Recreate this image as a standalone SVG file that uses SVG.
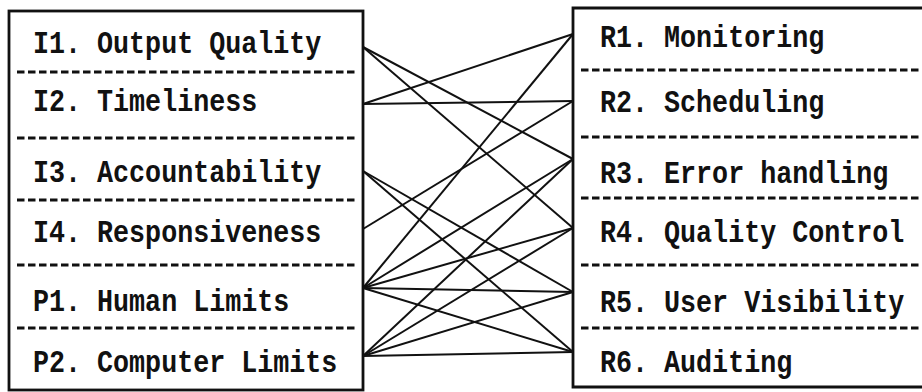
<svg xmlns="http://www.w3.org/2000/svg" width="922" height="392" viewBox="0 0 922 392">
  <style>
    .box { fill: #ffffff; stroke: #111111; stroke-width: 2.8; }
    .sep { stroke: #111111; stroke-width: 3; stroke-dasharray: 7.5 3.5; fill: none; }
    .lbl { font-family: "Liberation Mono", "DejaVu Sans Mono", monospace; font-weight: bold; font-size: 26.7px; fill: #111111; }
    .link { stroke: #111111; stroke-width: 2; fill: none; }
  </style>
  <rect width="922" height="392" fill="#ffffff"/>

  <!-- left column: issues and limits -->
  <g id="left-box">
    <rect class="box" x="9" y="11" width="354" height="379"/>
    <line class="sep" x1="17" y1="72" x2="355" y2="72"/>
    <line class="sep" x1="17" y1="138" x2="355" y2="138"/>
    <line class="sep" x1="17" y1="200" x2="355" y2="200"/>
    <line class="sep" x1="17" y1="265" x2="355" y2="265"/>
    <line class="sep" x1="17" y1="328" x2="355" y2="328"/>
  </g>
  <!-- labels are set slightly tall: scale(1,1.16) about each baseline -->
  <g id="I1" transform="translate(33 53) scale(1 1.16)"><text class="lbl">I1. Output Quality</text></g>
  <g id="I2" transform="translate(33 111) scale(1 1.16)"><text class="lbl">I2. Timeliness</text></g>
  <g id="I3" transform="translate(33 182) scale(1 1.16)"><text class="lbl">I3. Accountability</text></g>
  <g id="I4" transform="translate(33 242) scale(1 1.16)"><text class="lbl">I4. Responsiveness</text></g>
  <g id="P1" transform="translate(33 311) scale(1 1.16)"><text class="lbl">P1. Human Limits</text></g>
  <g id="P2" transform="translate(33 372) scale(1 1.16)"><text class="lbl">P2. Computer Limits</text></g>

  <!-- right column: requirements (open on the right, runs past the edge) -->
  <g id="right-box">
    <path class="box" d="M922 8 H573 V387 H922"/>
    <line class="sep" x1="581" y1="70" x2="922" y2="70"/>
    <line class="sep" x1="581" y1="137" x2="922" y2="137"/>
    <line class="sep" x1="581" y1="198" x2="922" y2="198"/>
    <line class="sep" x1="581" y1="265" x2="922" y2="265"/>
    <line class="sep" x1="581" y1="328" x2="922" y2="328"/>
  </g>
  <g id="R1" transform="translate(600 47) scale(1 1.16)"><text class="lbl">R1. Monitoring</text></g>
  <g id="R2" transform="translate(600 112) scale(1 1.16)"><text class="lbl">R2. Scheduling</text></g>
  <g id="R3" transform="translate(600 183) scale(1 1.16)"><text class="lbl">R3. Error handling</text></g>
  <g id="R4" transform="translate(600 242) scale(1 1.16)"><text class="lbl">R4. Quality Control</text></g>
  <g id="R5" transform="translate(600 312) scale(1 1.16)"><text class="lbl">R5. User Visibility</text></g>
  <g id="R6" transform="translate(600 372) scale(1 1.16)"><text class="lbl">R6. Auditing</text></g>

  <!-- links between the columns -->
  <g id="connectors">
    <line class="link" x1="363" y1="47" x2="573" y2="159"/>
    <line class="link" x1="363" y1="47" x2="573" y2="228"/>
    <line class="link" x1="363" y1="104" x2="573" y2="34"/>
    <line class="link" x1="363" y1="104" x2="573" y2="101"/>
    <line class="link" x1="363" y1="171" x2="573" y2="292"/>
    <line class="link" x1="363" y1="171" x2="573" y2="352"/>
    <line class="link" x1="363" y1="229" x2="573" y2="101"/>
    <line class="link" x1="363" y1="288" x2="573" y2="34"/>
    <line class="link" x1="363" y1="288" x2="573" y2="159"/>
    <line class="link" x1="363" y1="288" x2="573" y2="228"/>
    <line class="link" x1="363" y1="288" x2="573" y2="292"/>
    <line class="link" x1="363" y1="288" x2="573" y2="352"/>
    <line class="link" x1="363" y1="356" x2="573" y2="159"/>
    <line class="link" x1="363" y1="356" x2="573" y2="228"/>
    <line class="link" x1="363" y1="356" x2="573" y2="292"/>
    <line class="link" x1="363" y1="356" x2="573" y2="352"/>
  </g>
</svg>
